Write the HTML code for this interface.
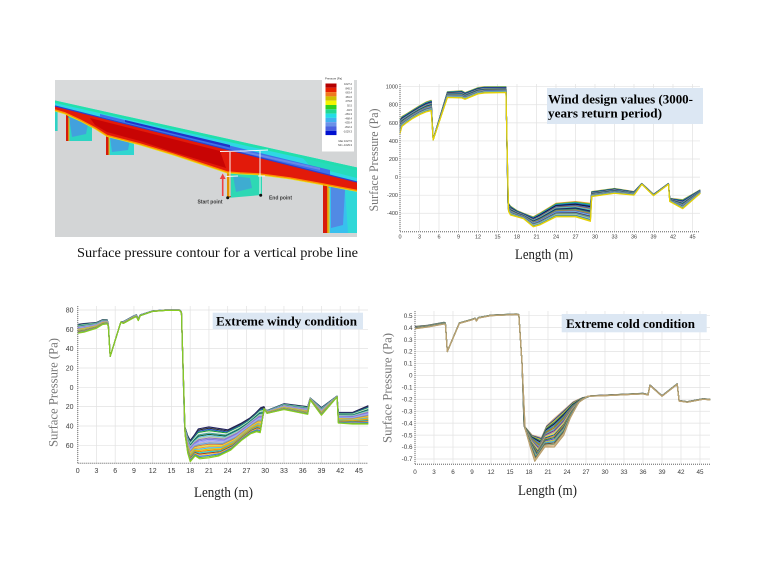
<!DOCTYPE html>
<html>
<head>
<meta charset="utf-8">
<style>
html,body{margin:0;padding:0;background:#fff;}
svg{display:block;}
.tk{font-family:"Liberation Sans",sans-serif;fill:#3a3a3a;}
.ser{font-family:"Liberation Serif",serif;}
</style>
</head>
<body>
<svg id="S" width="760" height="570" viewBox="0 0 760 570" xmlns="http://www.w3.org/2000/svg">
<rect width="760" height="570" fill="#fff"/>

<!-- ===================== CONTOUR IMAGE ===================== -->
<g>
  <rect x="55" y="80" width="302" height="157" fill="#d3d5d6"/>
  <rect x="55" y="80" width="302" height="20" fill="#d8dadb"/>
  <!-- leftmost stub -->
  <rect x="55" y="105" width="2.6" height="26" fill="#2fd2c4"/>
  <!-- pier 1 -->
  <rect x="66" y="114" width="26" height="27" fill="#2dd4c2"/>
  <polygon points="69,117 88,124 86,134 72,137" fill="#4a90e6" opacity="0.75"/>
  <rect x="66" y="114" width="2.4" height="27" fill="#d81a0a"/>
  <rect x="68.4" y="118" width="1" height="23" fill="#f0c000"/>
  <!-- pier 2 -->
  <rect x="106" y="134" width="28" height="21" fill="#30d6d0"/>
  <polygon points="110,137 130,140 128,150 112,152" fill="#4a8ee4" opacity="0.7"/>
  <rect x="106" y="134" width="2.6" height="21" fill="#d81a0a"/>
  <rect x="108.6" y="136" width="1" height="19" fill="#f0c000"/>
  <!-- pier 3 -->
  <polygon points="227,170 262,170 262,195 227,198" fill="#2ed8b4"/>
  <polygon points="233,176 250,178 252,188 236,192" fill="#4a90e4" opacity="0.6"/>
  <rect x="227" y="170" width="2.5" height="28" fill="#e09000"/>
  <rect x="229.5" y="172" width="1.2" height="25" fill="#d82010"/>
  <!-- pier 4 -->
  <rect x="323" y="183" width="34" height="50" fill="#38c0ee"/>
  <polygon points="331,186 345,190 343,225 331,228" fill="#5a78e0" opacity="0.75"/>
  <polygon points="345,190 357,192 357,233 348,233" fill="#30d8d8"/>
  <rect x="323" y="183" width="4" height="50" fill="#d81a0a"/>
  <rect x="327" y="185" width="1.6" height="48" fill="#f09000"/>
  <rect x="328.6" y="188" width="1" height="45" fill="#e0e020"/>
  <!-- deck top surface -->
  <polygon points="55,100.5 357,167.5 357,183 55,106.5" fill="#2fd8e4"/>
  <polygon points="55,100.5 357,167.5 357,170.5 55,103" fill="#22e0aa"/>
  <polygon points="300,155 357,167.5 357,178 310,166" fill="#24dcb0" opacity="0.8"/>
  <polygon points="100,114 330,170 330,175 100,116.5" fill="#3e72ea"/>
  <polygon points="125,120 230,145 230,147.5 125,122" fill="#2232c8"/>
  <polygon points="240,150 320,168 320,170 240,152" fill="#6a88e6"/>
  <!-- red girder -->
  <polygon points="55,106 357,182 357,190.5 323,184 290,178 260,174 240,173 227,172 200,163 173,154 140,144 107,135.5 95,128 80,120 65,113 55,110" fill="#e21a0a"/>
  <polygon points="90,118 220,151 226,168 200,160 170,151 140,141 107,132 95,125" fill="#c80404"/>
  <polyline points="55,110 65,113 80,120 95,128 107,135.5 140,144 173,154 200,163 227,172 240,173 260,174 290,178 323,184 357,190.5" fill="none" stroke="#ff8c00" stroke-width="1.6"/>
  <polyline points="55,111 65,114 80,121 95,129 107,136.5 140,145 173,155 200,164 227,173 240,174 260,175 290,179 323,185 357,191.5" fill="none" stroke="#e8e010" stroke-width="0.7"/>
  <line x1="55" y1="106" x2="357" y2="182" stroke="#2a40d0" stroke-width="1.2"/>
  <!-- probe overlay -->
  <g stroke="#f6f6f6" stroke-width="1" fill="none">
    <polyline points="220,151.5 244,151 268,150"/>
    <line x1="230" y1="152" x2="230" y2="196"/>
    <line x1="260" y1="151" x2="260" y2="195"/>
    <line x1="226" y1="176.5" x2="238" y2="176"/>
    <line x1="258" y1="176" x2="265" y2="176"/>
  </g>
  <line x1="222.7" y1="196" x2="222.7" y2="178" stroke="#f04040" stroke-width="1.6"/>
  <polygon points="219.8,179 225.6,179 222.7,173.5" fill="#f04040"/>
  <circle cx="227.7" cy="197.7" r="1.5" fill="#111"/>
  <circle cx="260.7" cy="195.3" r="1.5" fill="#111"/>
  <text x="210" y="203.5" font-family="Liberation Sans, sans-serif" font-size="5" font-weight="bold" fill="#3a3a3a" text-anchor="middle">Start point</text>
  <text x="280.5" y="199.5" font-family="Liberation Sans, sans-serif" font-size="5" font-weight="bold" fill="#3a3a3a" text-anchor="middle">End point</text>
  <!-- legend -->
  <rect x="322" y="75.5" width="32" height="76" fill="#fff"/>
  <text x="325" y="79.5" font-family="Liberation Sans, sans-serif" font-size="2.8" fill="#333">Pressure [Pa]</text>
  <g>
    <rect x="325.5" y="83.5" width="11" height="4.3" fill="#b40000"/>
    <rect x="325.5" y="87.8" width="11" height="4.3" fill="#e82000"/>
    <rect x="325.5" y="92.1" width="11" height="4.3" fill="#f07820"/>
    <rect x="325.5" y="96.4" width="11" height="4.3" fill="#d0c000"/>
    <rect x="325.5" y="100.7" width="11" height="4.3" fill="#f4f400"/>
    <rect x="325.5" y="105" width="11" height="4.3" fill="#30d020"/>
    <rect x="325.5" y="109.3" width="11" height="4.3" fill="#20d890"/>
    <rect x="325.5" y="113.6" width="11" height="4.3" fill="#22dce6"/>
    <rect x="325.5" y="117.9" width="11" height="4.3" fill="#40b0f0"/>
    <rect x="325.5" y="122.2" width="11" height="4.3" fill="#6a90e8"/>
    <rect x="325.5" y="126.5" width="11" height="4.3" fill="#4a62e0"/>
    <rect x="325.5" y="130.8" width="11" height="4.3" fill="#0010d0"/>
  </g>
  <g font-family="Liberation Sans, sans-serif" font-size="2.6" fill="#333" text-anchor="end">
    <text x="352" y="85">1027.2</text>
    <text x="352" y="89.3">845.3</text>
    <text x="352" y="93.6">663.4</text>
    <text x="352" y="97.9">481.6</text>
    <text x="352" y="102.2">279.8</text>
    <text x="352" y="106.5">92.5</text>
    <text x="352" y="110.8">-94.5</text>
    <text x="352" y="115.1">-281.3</text>
    <text x="352" y="119.4">-468.4</text>
    <text x="352" y="123.7">-655.4</text>
    <text x="352" y="128">-842.4</text>
    <text x="352" y="132.3">-1029.3</text>
    <text x="352" y="142">Max 1027.5</text>
    <text x="352" y="146">Min -1029.3</text>
  </g>
</g>
<text class="ser" x="217.5" y="252" dy="0.35em" font-size="14" fill="#111" text-anchor="middle" textLength="281" lengthAdjust="spacingAndGlyphs">Surface pressure contour for a vertical probe line</text>

<!-- ===================== CHART A (top right) ===================== -->
<g id="gridA" stroke="#e2e2e2" stroke-width="0.7"></g>
<g id="linesA" fill="none" stroke-width="1.1" stroke-linejoin="round"></g>
<g stroke="#8a8a8a" stroke-width="1.3" stroke-dasharray="1 1">
  <line x1="400" y1="84" x2="400" y2="231.7"/>
  <line x1="400" y1="231.7" x2="700" y2="231.7"/>
</g>
<g class="tk" font-size="5.5" text-anchor="end">
  <text x="398" y="86.7" dy="0.35em">1000</text>
  <text x="398" y="104.8" dy="0.35em">800</text>
  <text x="398" y="122.9" dy="0.35em">600</text>
  <text x="398" y="141" dy="0.35em">400</text>
  <text x="398" y="159" dy="0.35em">200</text>
  <text x="398" y="177.1" dy="0.35em">0</text>
  <text x="398" y="195.2" dy="0.35em">-200</text>
  <text x="398" y="213.3" dy="0.35em">-400</text>
</g>
<g class="tk" font-size="5.5" text-anchor="middle">
  <text x="400" y="236.7" dy="0.35em">0</text>
  <text x="419.5" y="236.7" dy="0.35em">3</text>
  <text x="439" y="236.7" dy="0.35em">6</text>
  <text x="458.5" y="236.7" dy="0.35em">9</text>
  <text x="478" y="236.7" dy="0.35em">12</text>
  <text x="497.5" y="236.7" dy="0.35em">15</text>
  <text x="517" y="236.7" dy="0.35em">18</text>
  <text x="536.5" y="236.7" dy="0.35em">21</text>
  <text x="556" y="236.7" dy="0.35em">24</text>
  <text x="575.5" y="236.7" dy="0.35em">27</text>
  <text x="595" y="236.7" dy="0.35em">30</text>
  <text x="614.5" y="236.7" dy="0.35em">33</text>
  <text x="634" y="236.7" dy="0.35em">36</text>
  <text x="653.5" y="236.7" dy="0.35em">39</text>
  <text x="673" y="236.7" dy="0.35em">42</text>
  <text x="692.5" y="236.7" dy="0.35em">45</text>
</g>
<text class="ser" transform="translate(373.5,160) rotate(-90)" dy="0.35em" font-size="12.5" fill="#777" text-anchor="middle" textLength="103" lengthAdjust="spacingAndGlyphs">Surface Pressure (Pa)</text>
<text class="ser" x="544" y="254" dy="0.35em" font-size="14.5" fill="#222" text-anchor="middle" textLength="58" lengthAdjust="spacingAndGlyphs">Length (m)</text>
<rect x="547" y="88" width="156" height="36" fill="#dce7f3"/>
<text class="ser" x="548" y="99" dy="0.35em" font-size="13" font-weight="bold" fill="#000" textLength="145" lengthAdjust="spacingAndGlyphs">Wind design values (3000-</text>
<text class="ser" x="548" y="112.7" dy="0.35em" font-size="13" font-weight="bold" fill="#000" textLength="114" lengthAdjust="spacingAndGlyphs">years return period)</text>

<!-- ===================== CHART B (bottom left) ===================== -->
<g id="gridB" stroke="#e2e2e2" stroke-width="0.7"></g>
<g id="linesB" fill="none" stroke-width="1.1" stroke-linejoin="round"></g>
<g stroke="#8a8a8a" stroke-width="1.3" stroke-dasharray="1 1">
  <line x1="77.7" y1="306" x2="77.7" y2="463.3"/>
  <line x1="77.7" y1="463.3" x2="368" y2="463.3"/>
</g>
<g class="tk" font-size="7" text-anchor="end">
  <text x="73.5" y="310" dy="0.35em">80</text>
  <text x="73.5" y="329.3" dy="0.35em">60</text>
  <text x="73.5" y="348.7" dy="0.35em">40</text>
  <text x="73.5" y="368" dy="0.35em">20</text>
  <text x="73.5" y="387.3" dy="0.35em">0</text>
  <text x="73.5" y="406.7" dy="0.35em">20</text>
  <text x="73.5" y="426" dy="0.35em">40</text>
  <text x="73.5" y="445.3" dy="0.35em">60</text>
</g>
<g class="tk" font-size="7" text-anchor="middle">
  <text x="77.7" y="470.7" dy="0.35em">0</text>
  <text x="96.45" y="470.7" dy="0.35em">3</text>
  <text x="115.2" y="470.7" dy="0.35em">6</text>
  <text x="133.95" y="470.7" dy="0.35em">9</text>
  <text x="152.7" y="470.7" dy="0.35em">12</text>
  <text x="171.45" y="470.7" dy="0.35em">15</text>
  <text x="190.2" y="470.7" dy="0.35em">18</text>
  <text x="208.95" y="470.7" dy="0.35em">21</text>
  <text x="227.7" y="470.7" dy="0.35em">24</text>
  <text x="246.45" y="470.7" dy="0.35em">27</text>
  <text x="265.2" y="470.7" dy="0.35em">30</text>
  <text x="283.95" y="470.7" dy="0.35em">33</text>
  <text x="302.7" y="470.7" dy="0.35em">36</text>
  <text x="321.45" y="470.7" dy="0.35em">39</text>
  <text x="340.2" y="470.7" dy="0.35em">42</text>
  <text x="358.95" y="470.7" dy="0.35em">45</text>
</g>
<text class="ser" transform="translate(52.7,392.5) rotate(-90)" dy="0.35em" font-size="13" fill="#777" text-anchor="middle" textLength="109" lengthAdjust="spacingAndGlyphs">Surface Pressure (Pa)</text>
<text class="ser" x="223.5" y="491.7" dy="0.35em" font-size="14.5" fill="#222" text-anchor="middle" textLength="59" lengthAdjust="spacingAndGlyphs">Length (m)</text>
<rect x="212.7" y="312.7" width="150.3" height="16.6" fill="#dce7f3"/>
<text class="ser" x="216" y="320.8" dy="0.35em" font-size="13" font-weight="bold" fill="#000" textLength="141" lengthAdjust="spacingAndGlyphs">Extreme windy condition</text>

<!-- ===================== CHART C (bottom right) ===================== -->
<g id="gridC" stroke="#e2e2e2" stroke-width="0.7"></g>
<g id="linesC" fill="none" stroke-width="1.1" stroke-linejoin="round"></g>
<g stroke="#8a8a8a" stroke-width="1.3" stroke-dasharray="1 1">
  <line x1="415" y1="311" x2="415" y2="464.3"/>
  <line x1="415" y1="464.3" x2="710" y2="464.3"/>
</g>
<g class="tk" font-size="6.3" text-anchor="end">
  <text x="412.5" y="315.7" dy="0.35em">0.5</text>
  <text x="412.5" y="327.6" dy="0.35em">0.4</text>
  <text x="412.5" y="339.6" dy="0.35em">0.3</text>
  <text x="412.5" y="351.5" dy="0.35em">0.2</text>
  <text x="412.5" y="363.5" dy="0.35em">0.1</text>
  <text x="412.5" y="375.4" dy="0.35em">0</text>
  <text x="412.5" y="387.3" dy="0.35em">-0.1</text>
  <text x="412.5" y="399.3" dy="0.35em">-0.2</text>
  <text x="412.5" y="411.2" dy="0.35em">-0.3</text>
  <text x="412.5" y="423.2" dy="0.35em">-0.4</text>
  <text x="412.5" y="435.1" dy="0.35em">-0.5</text>
  <text x="412.5" y="447" dy="0.35em">-0.6</text>
  <text x="412.5" y="459" dy="0.35em">-0.7</text>
</g>
<g class="tk" font-size="6.3" text-anchor="middle">
  <text x="415" y="472" dy="0.35em">0</text>
  <text x="434" y="472" dy="0.35em">3</text>
  <text x="453" y="472" dy="0.35em">6</text>
  <text x="472" y="472" dy="0.35em">9</text>
  <text x="491" y="472" dy="0.35em">12</text>
  <text x="510" y="472" dy="0.35em">15</text>
  <text x="529" y="472" dy="0.35em">18</text>
  <text x="548" y="472" dy="0.35em">21</text>
  <text x="567" y="472" dy="0.35em">24</text>
  <text x="586" y="472" dy="0.35em">27</text>
  <text x="605" y="472" dy="0.35em">30</text>
  <text x="624" y="472" dy="0.35em">33</text>
  <text x="643" y="472" dy="0.35em">36</text>
  <text x="662" y="472" dy="0.35em">39</text>
  <text x="681" y="472" dy="0.35em">42</text>
  <text x="700" y="472" dy="0.35em">45</text>
</g>
<text class="ser" transform="translate(387,388) rotate(-90)" dy="0.35em" font-size="13" fill="#777" text-anchor="middle" textLength="110" lengthAdjust="spacingAndGlyphs">Surface Pressure (Pa)</text>
<text class="ser" x="547.5" y="490" dy="0.35em" font-size="14.5" fill="#222" text-anchor="middle" textLength="59" lengthAdjust="spacingAndGlyphs">Length (m)</text>
<rect x="561.7" y="314" width="145" height="18.3" fill="#dce7f3"/>
<text class="ser" x="566" y="323.3" dy="0.35em" font-size="13" font-weight="bold" fill="#000" textLength="129" lengthAdjust="spacingAndGlyphs">Extreme cold condition</text>
</svg>

<script>
(function(){
var NS="http://www.w3.org/2000/svg";
function el(tag,attrs,parent){var e=document.createElementNS(NS,tag);for(var k in attrs)e.setAttribute(k,attrs[k]);parent.appendChild(e);return e;}
function grid(id,xs,ys,x0,x1,y0,y1){
  var g=document.getElementById(id);
  xs.forEach(function(x){el('line',{x1:x,y1:y0,x2:x,y2:y1},g);});
  ys.forEach(function(y){el('line',{x1:x0,y1:y,x2:x1,y2:y},g);});
}
function lines(id,data,N,colors,mx,my){
  var g=document.getElementById(id);
  for(var i=0;i<N;i++){
    var t=N==1?0:i/(N-1),d='';
    for(var k=0;k<data.length;k++){
      var p=data[k];
      var x=p[0]+(p[2]-p[0])*t,y=p[1]+(p[3]-p[1])*t;
      d+=(k?'L':'M')+mx(x).toFixed(2)+' '+my(y).toFixed(2);
    }
    el('path',{d:d,stroke:colors[i%colors.length]},g);
  }
}
var i,xs,ys;
/* Chart A */
xs=[];for(i=0;i<=15;i++)xs.push(400+19.5*i);
ys=[];for(i=1000;i>=-400;i-=200)ys.push(177.1-0.0904*i);
grid('gridA',xs,ys,400,700,84,231.7);
var A=[[0,640,0,480],[0.3,670,0.3,560],[1,700,1,600],[2,745,2,650],[3,790,3,690],[4,830,4,720],[4.8,850,4.8,735],
[5.1,420,5.1,410],[7.3,945,7.3,880],[9.5,955,9.5,875],[10,935,10,860],[12,990,12,920],[13,1000,13,930],[16.3,1000,16.3,935],
[16.6,-280,16.7,-380],[17,-320,17,-420],[18,-370,18,-440],[19,-400,19,-460],[20.5,-440,20.5,-550],[21.5,-400,21.5,-530],
[24,-290,24,-440],[27,-270,27,-440],[29.3,-290,29.3,-490],[29.5,-160,29.5,-215],[33,-125,33,-180],[36,-160,36,-200],
[37.2,-70,37.2,-80],[39,-190,39,-205],[41.3,-70,41.3,-80],[41.5,-235,41.5,-270],[43.5,-250,43.5,-350],[46.2,-140,46.2,-180]];
var cA=['#f0a030','#40b040','#20a0c0','#2040a0','#101010','#3060e0','#806040','#a0a0a0','#40c0c0','#1a1a50','#205080','#60a060','#c08040','#4070d0','#80c0e0','#303080','#909060','#50b0a0','#c0c0c0','#2080c0','#d0d020','#e8d000'];
lines('linesA',A,22,cA,function(x){return 400+6.5*x;},function(y){return 177.1-0.0904*y;});
/* Chart B */
xs=[];for(i=0;i<=15;i++)xs.push(77.7+18.75*i);
ys=[];for(i=80;i>=-60;i-=20)ys.push(387.3-0.9667*i);
grid('gridB',xs,ys,77.7,368,306,463.3);
var B=[[0,65,0,56],[1,66,1,57],[3,67,3,61],[4,70,4,65],[4.7,70,4.7,65.5],[4.9,66,4.9,63],[5.2,32,5.2,32],[6.9,67.5,6.9,67.5],
[7.3,68,7.3,66],[9,74,9,72],[9.4,75,9.4,73],[9.7,71,9.7,69],[10,75,10,74],[12,79,12,78.5],[14,80,14,79.5],[16.3,80,16.3,79.5],
[16.6,78,16.6,77],[17.1,-40,17.2,-50],[17.6,-50,17.6,-68],[18,-55,18,-77],[18.6,-50,18.8,-71],[19.3,-43,19.5,-74],[21,-41,21,-73],
[24,-44,22.6,-71],[26.2,-37,24.5,-65],[27.5,-32,26.2,-55],[28.4,-27,27.7,-48],[29.3,-21,28.6,-46],[29.8,-20,29.2,-47],[30,-23,29.8,-22],
[30.3,-24,30.3,-27],[33,-17,33,-23],[36.8,-20,36.8,-28],[37.2,-11,37.2,-13],[39,-21,39,-29],[41.5,-9,41.5,-10],[41.7,-26,41.7,-37],
[44,-26,44,-38],[46.5,-19,46.5,-38]];
var cB=['#202060','#303030','#2050c0','#20a040','#f0f0e0','#40a0a0','#106030','#60c0e0','#c0d0a0','#9070c0','#8080e0','#a0a0ff','#b0b0d0','#60a0e0','#d08040','#e0e040','#f0a030','#40c0f0','#e0c000','#f08000','#20d0d0','#a04020','#f0c040','#3070ff','#70b828','#88cc22'];
lines('linesB',B,26,cB,function(x){return 77.7+6.25*x;},function(y){return 387.3-0.9667*y;});
/* Chart C */
xs=[];for(i=0;i<=15;i++)xs.push(415+19*i);
ys=[];for(i=5;i>=-7;i--)ys.push(375.4-119.4*(i/10));
grid('gridC',xs,ys,415,710,311,464.3);
var C=[[0,0.41,0,0.39],[2,0.42,2,0.405],[4.6,0.445,4.6,0.43],[4.8,0.44,4.8,0.43],[5.1,0.2,5.1,0.2],[7,0.44,7,0.435],[9,0.47,9,0.465],
[9.5,0.48,9.5,0.475],[9.7,0.46,9.7,0.455],[10,0.485,10,0.48],[12,0.505,12,0.5],[16,0.515,16,0.51],[16.4,0.51,16.4,0.505],[16.9,0.1,16.9,0.1],
[17.2,-0.42,17.4,-0.45],[18.5,-0.5,18.2,-0.6],[20,-0.52,18.9,-0.72],[20.8,-0.42,20.5,-0.6],[22,-0.36,22,-0.6],[23.5,-0.29,23.5,-0.5],
[25,-0.22,24.5,-0.36],[26.5,-0.185,25.8,-0.23],[28,-0.17,27.2,-0.175],[30,-0.165,30,-0.17],[36,-0.15,36,-0.155],[36.8,-0.16,36.8,-0.165],
[37.1,-0.08,37.1,-0.085],[39,-0.17,39,-0.175],[41.4,-0.07,41.4,-0.075],[41.7,-0.21,41.7,-0.215],[43,-0.22,43,-0.225],[45.5,-0.195,45.5,-0.2],[46.6,-0.2,46.6,-0.205]];
var cC=['#d8b080','#2040a0','#e0c020','#208080','#202020','#4070e0','#60a040','#c06020','#40c0c0','#803080','#a0a0a0','#f0e040','#1060a0','#e08030','#208040','#5050c0','#c0c040','#30a0d0','#705030','#90a070','#d8b080','#b8a070'];
lines('linesC',C,22,cC,function(x){return 415+6.333*x;},function(y){return 375.4-119.4*y;});
})();
</script>
</body>
</html>
